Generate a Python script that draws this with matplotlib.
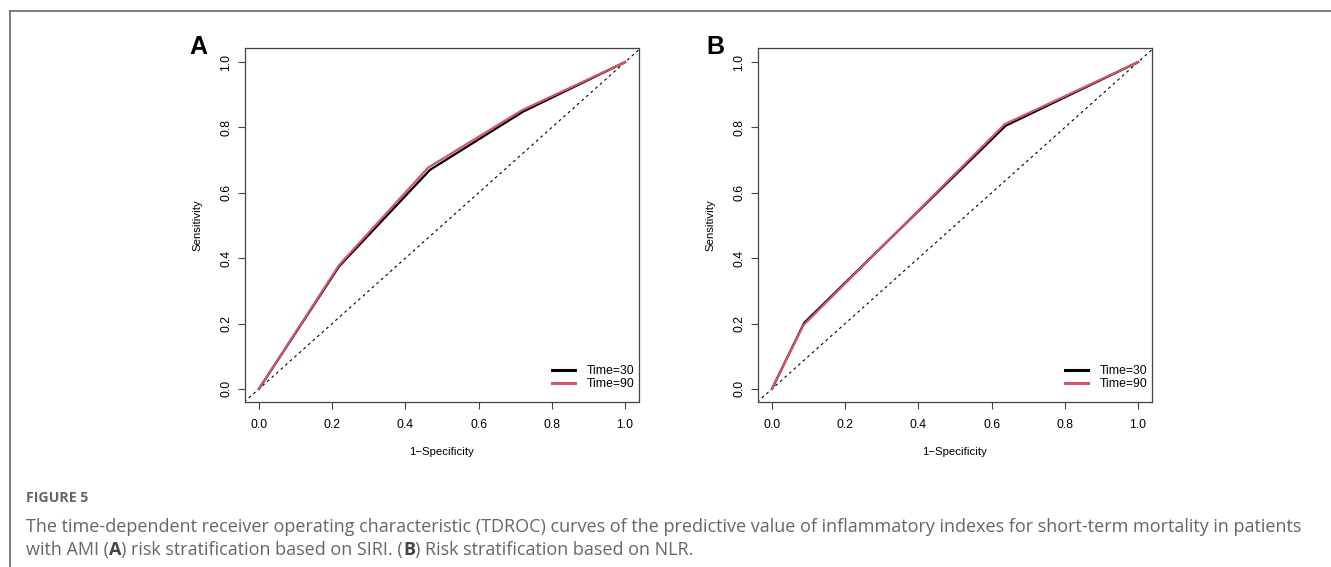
import matplotlib
matplotlib.use('Agg')
import matplotlib.pyplot as plt
from matplotlib.lines import Line2D

plt.rcParams['font.family'] = ['Liberation Sans', 'DejaVu Sans']

# panel A (SIRI)
fpr_a_30 = [0.0, 0.219, 0.467, 0.721, 1.0]
tpr_a_30 = [0.0, 0.375, 0.670, 0.848, 1.0]
fpr_a_90 = [0.0, 0.219, 0.462, 0.719, 1.0]
tpr_a_90 = [0.0, 0.379, 0.677, 0.853, 1.0]
# panel B (NLR)
fpr_b_30 = [0.0, 0.088, 0.638, 1.0]
tpr_b_30 = [0.0, 0.202, 0.805, 1.0]
fpr_b_90 = [0.0, 0.086, 0.636, 1.0]
tpr_b_90 = [0.0, 0.195, 0.810, 1.0]

ticks = [0.0, 0.2, 0.4, 0.6, 0.8, 1.0]
tick_labels = ['0.0', '0.2', '0.4', '0.6', '0.8', '1.0']
legend_labels = ['Time=30', 'Time=90']
panel_letters = ['A', 'B']

black = '#000000'
red = '#D2566A'

fig = plt.figure(figsize=(13.31, 5.67), dpi=100)
W, H = 1331, 567


def roc_panel(left_px, fx30, fy30, fx90, fy90, letter, letter_x):
    ax = fig.add_axes([left_px / W, 1 - 402 / H, 394 / W, 354 / H])
    ax.plot([-0.04, 1.04], [-0.04, 1.04], color=black, lw=0.8, ls=(0, (2.5, 3)))
    ax.plot(fx30, fy30, color=black, lw=1.6)
    ax.plot(fx90, fy90, color=red, lw=1.6)
    ax.set_xlim(-0.038, 1.038)
    ax.set_ylim(-0.04, 1.043)
    ax.set_xticks(ticks)
    ax.set_xticklabels(tick_labels)
    ax.set_yticks(ticks)
    ax.set_yticklabels(tick_labels, rotation=90, va='center')
    ax.tick_params(direction='out', length=5, width=0.8, labelsize=8.8, color='#444444', pad=7)
    ax.tick_params(axis='y', pad=4)
    for s in ax.spines.values():
        s.set_color('#444444')
        s.set_linewidth(0.9)
    ax.set_xlabel('1\u2212Specificity', fontsize=8.2, labelpad=12)
    ax.set_ylabel('Sensitivity', fontsize=8.2, labelpad=13)
    handles = [Line2D([], [], color=black, lw=2.2), Line2D([], [], color=red, lw=2.2)]
    ax.legend(handles, legend_labels, loc='lower right', frameon=False, fontsize=8.8,
              handlelength=1.9, handletextpad=0.9, labelspacing=0.1,
              borderaxespad=0.0, bbox_to_anchor=(1.0, 0.02))
    fig.text(letter_x / W, 1 - 47 / H, letter, fontsize=18, fontweight='bold',
             ha='center', va='center')
    return ax


roc_panel(245, fpr_a_30, tpr_a_30, fpr_a_90, tpr_a_90, panel_letters[0], 198)
roc_panel(758, fpr_b_30, tpr_b_30, fpr_b_90, tpr_b_90, panel_letters[1], 715)

# figure frame (left and top rules)
frame_col = '#666666'
fig.add_artist(Line2D([9.5 / W, 9.5 / W], [0, 1 - 11 / H], color=frame_col, lw=1.2,
                      transform=fig.transFigure))
fig.add_artist(Line2D([9.5 / W, 1], [1 - 11 / H, 1 - 11 / H], color=frame_col, lw=1.2,
                      transform=fig.transFigure))

cap_col = '#666666'
cap_font = ['Open Sans', 'DejaVu Sans']
fig.text(26 / W, 1 - 498 / H, 'FIGURE 5', fontsize=10.2, color=cap_col, fontweight='bold',
         family=cap_font, va='center')
fig.text(26 / W, 1 - 527 / H,
         'The time-dependent receiver operating characteristic (TDROC) curves of the predictive value of '
         'inflammatory indexes for short-term mortality in patients',
         fontsize=13.0, color=cap_col, family=cap_font, va='center')

# last caption line with bold panel letters
renderer = fig.canvas.get_renderer()
runs = [('with AMI (', 'normal', cap_col), ('A', 'bold', '#444444'),
        (') risk stratification based on SIRI. (', 'normal', cap_col),
        ('B', 'bold', '#444444'), (') Risk stratification based on NLR.', 'normal', cap_col)]
x = 26
for txt, wt, col in runs:
    t = fig.text(x / W, 1 - 550 / H, txt, fontsize=13.0, color=col, family=cap_font,
                 fontweight=wt, va='center')
    x += t.get_window_extent(renderer).width

fig.savefig('out.png', dpi=100)
